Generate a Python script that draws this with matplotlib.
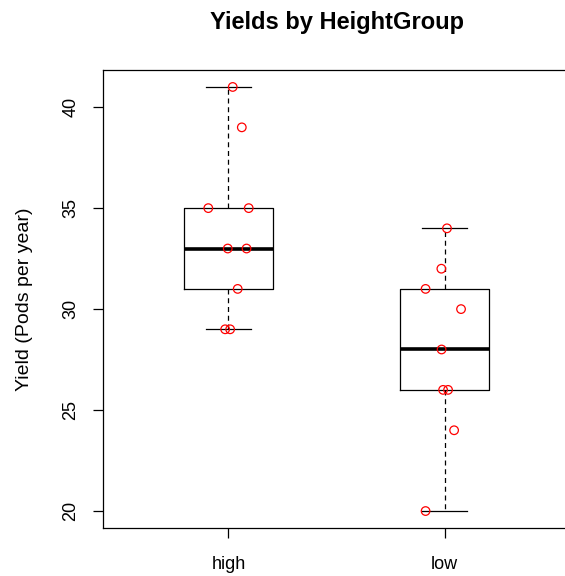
import matplotlib
matplotlib.use("Agg")
import matplotlib.pyplot as plt

plt.rcParams["font.family"] = ["Liberation Sans", "DejaVu Sans"]

# groups and yields
groups = ["high", "low"]
high_yield = [41, 39, 35, 35, 33, 33, 31, 29, 29]
low_yield = [34, 32, 31, 30, 28, 26, 26, 24, 20]
# jittered x positions of the points
high_jit = [1.020, 1.062, 0.907, 1.094, 0.997, 1.084, 1.043, 0.985, 1.008]
low_jit = [2.011, 1.985, 1.912, 2.076, 1.986, 1.993, 2.016, 2.044, 1.912]

fig = plt.figure(figsize=(5.65, 5.76), dpi=100)
ax = fig.add_axes([103 / 565, 48 / 576, 467 / 565, 458 / 576])

ax.boxplot([high_yield, low_yield], positions=[1, 2], widths=0.41,
           whis=(0, 100), capwidths=0.205,
           boxprops=dict(color="black", linewidth=0.9),
           medianprops=dict(color="black", linewidth=2.6),
           whiskerprops=dict(color="black", linewidth=0.9, linestyle=(0, (4, 3))),
           capprops=dict(color="black", linewidth=0.9),
           showfliers=False)

ax.scatter(high_jit, high_yield, s=38, facecolors="none", edgecolors="red", linewidths=0.9, zorder=3)
ax.scatter(low_jit, low_yield, s=38, facecolors="none", edgecolors="red", linewidths=0.9, zorder=3)

ax.set_xlim(0.42, 2.58)
ax.set_ylim(19.16, 41.84)
ax.set_xticks([1, 2])
ax.set_xticklabels(groups)
ax.set_yticks([20, 25, 30, 35, 40])
ax.set_yticklabels(["20", "25", "30", "35", "40"], rotation=90, va="center")
ax.tick_params(axis="both", labelsize=13, length=7, width=0.9)
ax.tick_params(axis="x", pad=13)
ax.tick_params(axis="y", pad=10)

for sp in ax.spines.values():
    sp.set_linewidth(0.9)

ax.set_ylabel("Yield (Pods per year)", fontsize=14)
ax.yaxis.set_label_coords((33 - 103) / 467, 0.5)
fig.text(337 / 565, 1 - 23 / 576, "Yields by HeightGroup", fontsize=17,
         fontweight="bold", ha="center", va="center")

fig.savefig("out.png", dpi=100)
